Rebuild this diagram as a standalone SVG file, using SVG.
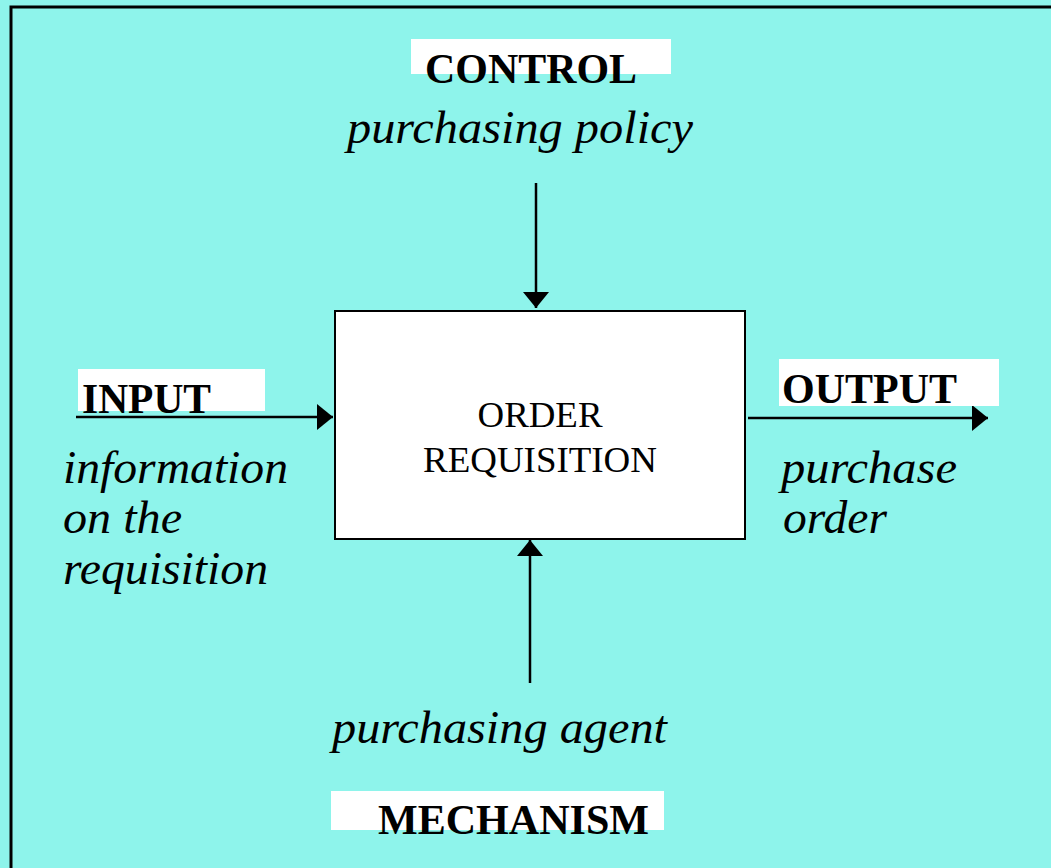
<svg xmlns="http://www.w3.org/2000/svg" width="1051" height="868" viewBox="0 0 1051 868">
  <style>
    .frame { fill: #8ef4eb; stroke: #000; stroke-width: 3; }
    .plate { fill: #fff; stroke: none; }
    .head { font-family: "Liberation Serif", "Times New Roman", serif; font-weight: bold; font-size: 42px; fill: #000; }
    .note { font-family: "Liberation Serif", "Times New Roman", serif; font-style: italic; font-size: 46px; fill: #000; }
    .box { fill: #fff; stroke: #000; stroke-width: 2; }
    .boxtext { font-family: "Liberation Serif", "Times New Roman", serif; font-size: 36px; fill: #000; text-anchor: middle; }
    .link { stroke: #000; stroke-width: 2.5; fill: none; marker-end: url(#tip); }
  </style>
  <defs>
    <marker id="tip" markerUnits="userSpaceOnUse" markerWidth="16" markerHeight="26" refX="16" refY="13" orient="auto">
      <path d="M0,0 L16,13 L0,26 Z" fill="#000"/>
    </marker>
  </defs>

  <!-- background panel -->
  <rect x="0" y="0" width="1051" height="868" fill="#8ef4eb"/>
  <rect class="frame" x="11" y="7" width="1060" height="880"/>

  <!-- connectors -->
  <g id="connectors">
    <line class="link" x1="536" y1="183" x2="536" y2="308"/>
    <line class="link" x1="76" y1="417" x2="333" y2="417"/>
    <line class="link" x1="748" y1="418" x2="988" y2="418"/>
    <line class="link" x1="530" y1="683" x2="530" y2="540"/>
  </g>

  <!-- activity -->
  <g id="activity">
    <rect class="box" x="335" y="311" width="410" height="228"/>
    <text class="boxtext" x="540" y="427" textLength="125" lengthAdjust="spacingAndGlyphs">ORDER</text>
    <text class="boxtext" x="540" y="472" textLength="234" lengthAdjust="spacingAndGlyphs">REQUISITION</text>
  </g>

  <!-- control -->
  <g id="control">
    <rect class="plate" x="411" y="39" width="260" height="35"/>
    <text class="head" x="425" y="83" textLength="212" lengthAdjust="spacingAndGlyphs">CONTROL</text>
    <text class="note" x="347" y="143" textLength="346" lengthAdjust="spacingAndGlyphs">purchasing policy</text>
  </g>

  <!-- input -->
  <g id="input">
    <rect class="plate" x="78" y="369" width="187" height="42"/>
    <text class="head" x="82" y="413" textLength="129" lengthAdjust="spacingAndGlyphs">INPUT</text>
    <text class="note" x="63" y="483" textLength="225" lengthAdjust="spacingAndGlyphs">information</text>
    <text class="note" x="63" y="533" textLength="119" lengthAdjust="spacingAndGlyphs">on the</text>
    <text class="note" x="63" y="584" textLength="205" lengthAdjust="spacingAndGlyphs">requisition</text>
  </g>

  <!-- output -->
  <g id="output">
    <rect class="plate" x="779" y="359" width="220" height="47"/>
    <text class="head" x="782" y="403" textLength="175" lengthAdjust="spacingAndGlyphs">OUTPUT</text>
    <text class="note" x="781" y="483" textLength="176" lengthAdjust="spacingAndGlyphs">purchase</text>
    <text class="note" x="783" y="533" textLength="104" lengthAdjust="spacingAndGlyphs">order</text>
  </g>

  <!-- mechanism -->
  <g id="mechanism">
    <text class="note" x="332" y="743" textLength="335" lengthAdjust="spacingAndGlyphs">purchasing agent</text>
    <rect class="plate" x="331" y="791" width="333" height="39"/>
    <text class="head" x="378" y="834" textLength="271" lengthAdjust="spacingAndGlyphs">MECHANISM</text>
  </g>
</svg>
